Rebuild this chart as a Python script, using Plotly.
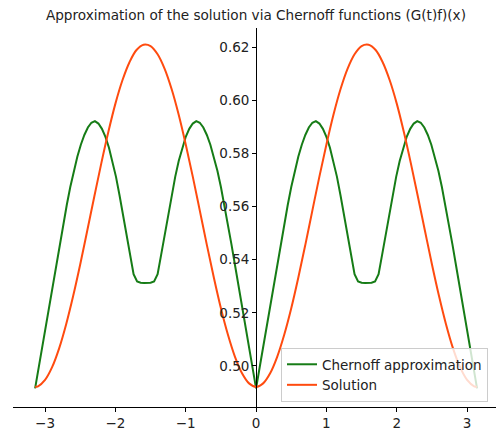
import plotly.graph_objects as go

# ---- data ----
chernoff_x = [-3.1416, -3.0916, -3.0416, -2.9916, -2.9416, -2.8916, -2.8416, -2.7916, -2.7416, -2.6916,
              -2.6416, -2.5916, -2.5416, -2.4916, -2.4416, -2.3916, -2.3416, -2.2916, -2.2416, -2.1916,
              -2.1416, -2.0916, -2.0416, -1.9916, -1.9416, -1.8916, -1.8416, -1.7916, -1.7416, -1.6916,
              -1.6416, -1.5916, -1.5708,
              -1.55, -1.50, -1.45, -1.40, -1.35, -1.30, -1.25, -1.20, -1.15, -1.10, -1.05, -1.00, -0.95,
              -0.90, -0.85, -0.80, -0.75, -0.70, -0.65, -0.60, -0.55, -0.50, -0.45, -0.40, -0.35, -0.30,
              -0.25, -0.20, -0.15, -0.10, -0.05, 0.00,
              0.05, 0.10, 0.15, 0.20, 0.25, 0.30, 0.35, 0.40, 0.45, 0.50, 0.55, 0.60, 0.65, 0.70, 0.75,
              0.80, 0.85, 0.90, 0.95, 1.00, 1.05, 1.10, 1.15, 1.20, 1.25, 1.30, 1.35, 1.40, 1.45, 1.50,
              1.55, 1.5708,
              1.5916, 1.6416, 1.6916, 1.7416, 1.7916, 1.8416, 1.8916, 1.9416, 1.9916, 2.0416, 2.0916,
              2.1416, 2.1916, 2.2416, 2.2916, 2.3416, 2.3916, 2.4416, 2.4916, 2.5416, 2.5916, 2.6416,
              2.6916, 2.7416, 2.7916, 2.8416, 2.8916, 2.9416, 2.9916, 3.0416, 3.0916, 3.1416]

chernoff_y = [0.4915, 0.4993, 0.5071, 0.5149, 0.5227, 0.5304, 0.5380, 0.5458, 0.5534, 0.5606,
              0.5674, 0.5735, 0.5788, 0.5833, 0.5870, 0.5898, 0.5916, 0.5922, 0.5913, 0.5893,
              0.5863, 0.5822, 0.5772, 0.5712, 0.5643, 0.5570, 0.5495, 0.5418, 0.5345, 0.5318,
              0.5313, 0.5312, 0.5312,
              0.5312, 0.5313, 0.5318, 0.5345, 0.5418, 0.5495, 0.5570, 0.5643, 0.5712, 0.5772, 0.5822,
              0.5863, 0.5893, 0.5913, 0.5922, 0.5916, 0.5898, 0.5870, 0.5833, 0.5788, 0.5735, 0.5674,
              0.5606, 0.5534, 0.5458, 0.5380, 0.5304, 0.5227, 0.5149, 0.5071, 0.4993, 0.4915,
              0.4993, 0.5071, 0.5149, 0.5227, 0.5304, 0.5380, 0.5458, 0.5534, 0.5606, 0.5674, 0.5735,
              0.5788, 0.5833, 0.5870, 0.5898, 0.5916, 0.5922, 0.5913, 0.5893, 0.5863, 0.5822, 0.5772,
              0.5712, 0.5643, 0.5570, 0.5495, 0.5418, 0.5345, 0.5318, 0.5313, 0.5312, 0.5312,
              0.5312, 0.5313, 0.5318, 0.5345, 0.5418, 0.5495, 0.5570, 0.5643, 0.5712, 0.5772, 0.5822,
              0.5863, 0.5893, 0.5913, 0.5922, 0.5916, 0.5898, 0.5870, 0.5833, 0.5788, 0.5735, 0.5674,
              0.5606, 0.5534, 0.5458, 0.5380, 0.5304, 0.5227, 0.5149, 0.5071, 0.4993, 0.4915]

solution_x = [-3.1416, -3.1, -3.0, -2.9, -2.8, -2.7, -2.6, -2.5, -2.4, -2.3, -2.2, -2.1, -2.0,
              -1.9, -1.8, -1.7, -1.6, -1.5, -1.4, -1.3, -1.2, -1.1, -1.0, -0.9, -0.8, -0.7,
              -0.6, -0.5, -0.4, -0.3, -0.2, -0.1, 0.0,
              0.1, 0.2, 0.3, 0.4, 0.5, 0.6, 0.7, 0.8, 0.9, 1.0, 1.1, 1.2, 1.3, 1.4, 1.5, 1.6,
              1.7, 1.8, 1.9, 2.0, 2.1, 2.2, 2.3, 2.4, 2.5, 2.6, 2.7, 2.8, 2.9, 3.0, 3.1, 3.1416]

solution_y = [0.4921, 0.4923, 0.4947, 0.4995, 0.5066, 0.5157, 0.5264, 0.5383, 0.5510, 0.5638,
              0.5764, 0.5882, 0.5988, 0.6076, 0.6144, 0.6190, 0.6210, 0.6205, 0.6174, 0.6119,
              0.6042, 0.5946, 0.5834, 0.5713, 0.5585, 0.5456, 0.5332, 0.5217, 0.5117, 0.5034,
              0.4972, 0.4934, 0.4921,
              0.4934, 0.4972, 0.5034, 0.5117, 0.5217, 0.5332, 0.5456, 0.5585, 0.5713, 0.5834,
              0.5946, 0.6042, 0.6119, 0.6174, 0.6205, 0.6210, 0.6190, 0.6144, 0.6076, 0.5988,
              0.5882, 0.5764, 0.5638, 0.5510, 0.5383, 0.5264, 0.5157, 0.5066, 0.4995, 0.4947,
              0.4923, 0.4921]

x_tick_vals = [-3, -2, -1, 0, 1, 2, 3]
x_tick_text = ["\u22123", "\u22122", "\u22121", "0", "1", "2", "3"]
y_tick_vals = [0.50, 0.52, 0.54, 0.56, 0.58, 0.60, 0.62]
y_tick_text = ["0.50", "0.52", "0.54", "0.56", "0.58", "0.60", "0.62"]

title_text = "Approximation of the solution via Chernoff functions (G(t)f)(x)"

FONT = "DejaVu Sans"
W, H = 496, 434
ml, mr, mt, mb = 13, 0, 28, 27
x_range = [-3.456, 3.411]
y_range = [0.4845, 0.6273]

fig = go.Figure()
fig.add_trace(go.Scatter(x=chernoff_x, y=chernoff_y, mode="lines", name="Chernoff approximation",
                         line=dict(color="#167c16", width=2)))
fig.add_trace(go.Scatter(x=solution_x, y=solution_y, mode="lines", name="Solution",
                         line=dict(color="#ff4b0f", width=2, shape="spline")))

ypos = (0 - x_range[0]) / (x_range[1] - x_range[0])

fig.update_layout(
    width=W, height=H,
    margin=dict(l=ml, r=mr, t=mt, b=mb, pad=0),
    paper_bgcolor="white", plot_bgcolor="white",
    font=dict(family=FONT, size=13.5, color="#222222"),
    title=dict(text=title_text, x=0.516, xref="container", xanchor="center",
               y=1 - 15 / H, yref="container", yanchor="middle",
               font=dict(family=FONT, size=13.6, color="#222222")),
    xaxis=dict(range=x_range, showgrid=False, zeroline=False, showline=True, linecolor="black",
               linewidth=1, ticks="outside", ticklen=4, tickcolor="black", tickwidth=1,
               tickvals=x_tick_vals, ticktext=x_tick_text),
    yaxis=dict(range=y_range, showgrid=False, zeroline=False, showline=True, linecolor="black",
               linewidth=1, ticks="outside", ticklen=4, tickcolor="black", tickwidth=1,
               tickvals=y_tick_vals, ticktext=y_tick_text, anchor="free", position=ypos),
    showlegend=True,
    legend=dict(x=(281 - ml) / (W - ml - mr), y=(H - mb - 402) / (H - mt - mb),
                xanchor="left", yanchor="bottom",
                bgcolor="rgba(255,255,255,0.8)", bordercolor="#cccccc", borderwidth=1,
                font=dict(family=FONT, size=13.5, color="#222222"), tracegroupgap=0),
)

fig.write_html("out.html", config={"displayModeBar": False},
               post_script="document.body.style.margin='0';document.body.style.overflow='hidden';")
